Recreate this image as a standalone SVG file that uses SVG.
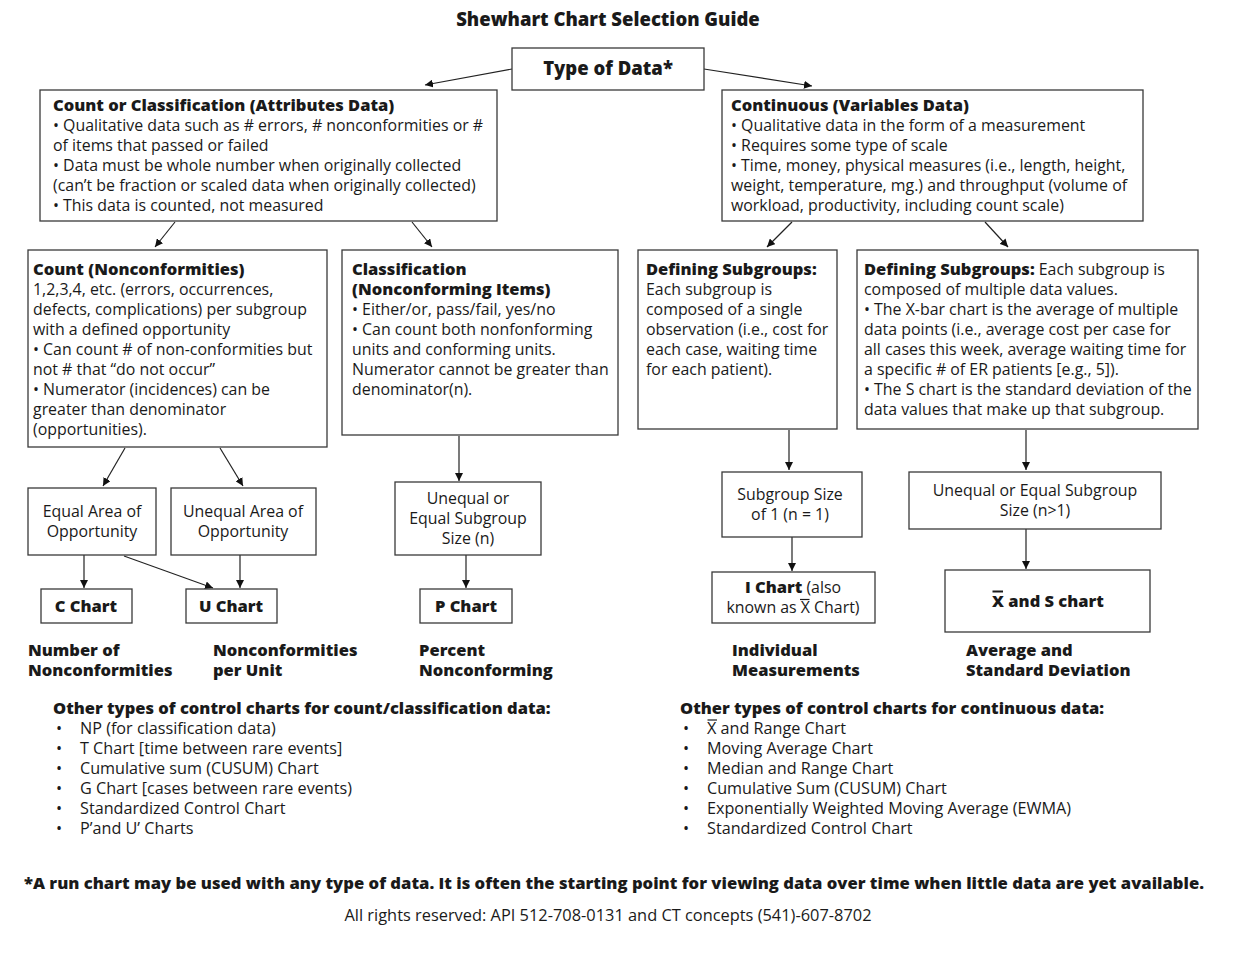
<svg xmlns="http://www.w3.org/2000/svg" width="1239" height="957" viewBox="0 0 1239 957">
<style>
text{font-family:"Open Sans","Liberation Sans",sans-serif;font-size:15.9px;fill:#1a1a1a}
.t{font-weight:800;font-size:16.5px}
.li{font-size:16.2px}
.c{text-anchor:middle}
.box{fill:#fff;stroke:#3a3a3a;stroke-width:1.3}
.ln{stroke:#222;stroke-width:1.2;fill:none;marker-end:url(#ah)}
.bar{stroke:#1a1a1a;stroke-width:1.2}
.bbar{stroke:#1a1a1a;stroke-width:2}
</style>
<defs>
<marker id="ah" viewBox="0 0 10 10" refX="10" refY="5" markerWidth="8" markerHeight="8" markerUnits="userSpaceOnUse" orient="auto">
<path d="M0,0 L10,5 L0,10 z" fill="#111"/>
</marker>
</defs>
<rect width="1239" height="957" fill="#fff"/>
<text id="title" class="t c" x="608" y="26" style="font-size:18.5px">Shewhart Chart Selection Guide</text>

<g id="connectors">
<line class="ln" x1="512" y1="69" x2="425" y2="85"/>
<line class="ln" x1="704" y1="69" x2="812" y2="86"/>
<line class="ln" x1="175" y1="222" x2="155" y2="247"/>
<line class="ln" x1="412" y1="222" x2="432" y2="247"/>
<line class="ln" x1="792" y1="222" x2="767" y2="247"/>
<line class="ln" x1="985" y1="222" x2="1008" y2="247"/>
<line class="ln" x1="125" y1="448" x2="103" y2="486"/>
<line class="ln" x1="220" y1="448" x2="243" y2="486"/>
<line class="ln" x1="459" y1="436" x2="459" y2="481"/>
<line class="ln" x1="84" y1="555" x2="84" y2="588"/>
<line class="ln" x1="124" y1="556" x2="213" y2="588"/>
<line class="ln" x1="240" y1="555" x2="240" y2="588"/>
<line class="ln" x1="466" y1="555" x2="466" y2="588"/>
<line class="ln" x1="789" y1="430" x2="789" y2="470"/>
<line class="ln" x1="792" y1="537" x2="792" y2="571"/>
<line class="ln" x1="1026" y1="430" x2="1026" y2="470"/>
<line class="ln" x1="1026" y1="529" x2="1026" y2="569"/>
</g>

<g id="type-of-data">
<rect class="box" x="512" y="48" width="192" height="42"/>
<text class="t c" x="608" y="75" style="font-size:18.5px">Type of Data*</text>
</g>

<g id="attributes">
<rect class="box" x="40" y="90" width="457" height="131"/>
<text x="53" y="111"><tspan class="t">Count or Classification (Attributes Data)</tspan>
<tspan x="53" dy="20">• Qualitative data such as # errors, # nonconformities or #</tspan>
<tspan x="53" dy="20">of items that passed or failed</tspan>
<tspan x="53" dy="20">• Data must be whole number when originally collected</tspan>
<tspan x="53" dy="20">(can’t be fraction or scaled data when originally collected)</tspan>
<tspan x="53" dy="20">• This data is counted, not measured</tspan></text>
</g>

<g id="variables">
<rect class="box" x="722" y="90" width="421" height="131"/>
<text x="731" y="111"><tspan class="t">Continuous (Variables Data)</tspan>
<tspan x="731" dy="20">• Qualitative data in the form of a measurement</tspan>
<tspan x="731" dy="20">• Requires some type of scale</tspan>
<tspan x="731" dy="20">• Time, money, physical measures (i.e., length, height,</tspan>
<tspan x="731" dy="20">weight, temperature, mg.) and throughput (volume of</tspan>
<tspan x="731" dy="20">workload, productivity, including count scale)</tspan></text>
</g>

<g id="count">
<rect class="box" x="28" y="250" width="299" height="197"/>
<text x="33" y="275"><tspan class="t">Count (Nonconformities)</tspan>
<tspan x="33" dy="20">1,2,3,4, etc. (errors, occurrences,</tspan>
<tspan x="33" dy="20">defects, complications) per subgroup</tspan>
<tspan x="33" dy="20">with a defined opportunity</tspan>
<tspan x="33" dy="20">• Can count # of non-conformities but</tspan>
<tspan x="33" dy="20">not # that “do not occur”</tspan>
<tspan x="33" dy="20">• Numerator (incidences) can be</tspan>
<tspan x="33" dy="20">greater than denominator</tspan>
<tspan x="33" dy="20">(opportunities).</tspan></text>
</g>

<g id="classification">
<rect class="box" x="342" y="250" width="276" height="185"/>
<text x="352" y="275"><tspan class="t">Classification</tspan>
<tspan class="t" x="352" dy="20">(Nonconforming Items)</tspan>
<tspan x="352" dy="20">• Either/or, pass/fail, yes/no</tspan>
<tspan x="352" dy="20">• Can count both nonfonforming</tspan>
<tspan x="352" dy="20">units and conforming units.</tspan>
<tspan x="352" dy="20">Numerator cannot be greater than</tspan>
<tspan x="352" dy="20">denominator(n).</tspan></text>
</g>

<g id="subgroups-single">
<rect class="box" x="638" y="250" width="199" height="179"/>
<text x="646" y="275"><tspan class="t">Defining Subgroups:</tspan>
<tspan x="646" dy="20">Each subgroup is</tspan>
<tspan x="646" dy="20">composed of a single</tspan>
<tspan x="646" dy="20">observation (i.e., cost for</tspan>
<tspan x="646" dy="20">each case, waiting time</tspan>
<tspan x="646" dy="20">for each patient).</tspan></text>
</g>

<g id="subgroups-multiple">
<rect class="box" x="857" y="250" width="341" height="179"/>
<text x="864" y="275"><tspan class="t">Defining Subgroups:</tspan> Each subgroup is
<tspan x="864" dy="20">composed of multiple data values.</tspan>
<tspan x="864" dy="20">• The X-bar chart is the average of multiple</tspan>
<tspan x="864" dy="20">data points (i.e., average cost per case for</tspan>
<tspan x="864" dy="20">all cases this week, average waiting time for</tspan>
<tspan x="864" dy="20">a specific # of ER patients [e.g., 5]).</tspan>
<tspan x="864" dy="20">• The S chart is the standard deviation of the</tspan>
<tspan x="864" dy="20">data values that make up that subgroup.</tspan></text>
</g>

<g id="equal-area">
<rect class="box" x="28" y="488" width="128" height="67"/>
<text class="c" x="92" y="517">Equal Area of<tspan x="92" dy="20">Opportunity</tspan></text>
</g>

<g id="unequal-area">
<rect class="box" x="171" y="488" width="145" height="67"/>
<text class="c" x="243" y="517">Unequal Area of<tspan x="243" dy="20">Opportunity</tspan></text>
</g>

<g id="subgroup-n">
<rect class="box" x="395" y="482" width="146" height="73"/>
<text class="c" x="468" y="504">Unequal or<tspan x="468" dy="20">Equal Subgroup</tspan><tspan x="468" dy="20">Size (n)</tspan></text>
</g>

<g id="c-chart">
<rect class="box" x="41" y="589" width="91" height="34"/>
<text class="t c" x="86" y="612">C Chart</text>
</g>

<g id="u-chart">
<rect class="box" x="186" y="589" width="91" height="34"/>
<text class="t c" x="231" y="612">U Chart</text>
</g>

<g id="p-chart">
<rect class="box" x="420" y="589" width="92" height="34"/>
<text class="t c" x="466" y="612">P Chart</text>
</g>

<g id="subgroup-1">
<rect class="box" x="722" y="472" width="140" height="65"/>
<text class="c" x="790" y="500">Subgroup Size<tspan x="790" dy="20">of 1 (n = 1)</tspan></text>
</g>

<g id="i-chart">
<rect class="box" x="712" y="572" width="163" height="51"/>
<text class="c" x="793" y="593"><tspan class="t">I Chart</tspan> (also<tspan x="793" dy="20">known as X Chart)</tspan></text>
<line class="bar" x1="800" y1="599.5" x2="809.5" y2="599.5"/>
</g>

<g id="subgroup-gt1">
<rect class="box" x="909" y="472" width="252" height="57"/>
<text class="c" x="1035" y="496">Unequal or Equal Subgroup<tspan x="1035" dy="20">Size (n&gt;1)</tspan></text>
</g>

<g id="xs-chart">
<rect class="box" x="945" y="570" width="205" height="62"/>
<text class="t c" x="1048" y="607">X and S chart</text>
<line class="bbar" x1="992.5" y1="591.5" x2="1003" y2="591.5"/>
</g>

<g id="labels">
<text class="t" x="28" y="656">Number of<tspan x="28" dy="20">Nonconformities</tspan></text>
<text class="t" x="213" y="656">Nonconformities<tspan x="213" dy="20">per Unit</tspan></text>
<text class="t" x="419" y="656">Percent<tspan x="419" dy="20">Nonconforming</tspan></text>
<text class="t" x="732" y="656">Individual<tspan x="732" dy="20">Measurements</tspan></text>
<text class="t" x="966" y="656">Average and<tspan x="966" dy="20">Standard Deviation</tspan></text>
</g>

<g id="other-count">
<text class="t" x="53" y="714">Other types of control charts for count/classification data:</text>
<text class="li" x="56" y="734">•<tspan x="56" dy="20">•</tspan><tspan x="56" dy="20">•</tspan><tspan x="56" dy="20">•</tspan><tspan x="56" dy="20">•</tspan><tspan x="56" dy="20">•</tspan></text>
<text class="li" x="80" y="734">NP (for classification data)<tspan x="80" dy="20">T Chart [time between rare events]</tspan><tspan x="80" dy="20">Cumulative sum (CUSUM) Chart</tspan><tspan x="80" dy="20">G Chart [cases between rare events)</tspan><tspan x="80" dy="20">Standardized Control Chart</tspan><tspan x="80" dy="20">P’and U’ Charts</tspan></text>
</g>

<g id="other-continuous">
<text class="t" x="680" y="714">Other types of control charts for continuous data:</text>
<text class="li" x="683" y="734">•<tspan x="683" dy="20">•</tspan><tspan x="683" dy="20">•</tspan><tspan x="683" dy="20">•</tspan><tspan x="683" dy="20">•</tspan><tspan x="683" dy="20">•</tspan></text>
<text class="li" x="707" y="734">X and Range Chart<tspan x="707" dy="20">Moving Average Chart</tspan><tspan x="707" dy="20">Median and Range Chart</tspan><tspan x="707" dy="20">Cumulative Sum (CUSUM) Chart</tspan><tspan x="707" dy="20">Exponentially Weighted Moving Average (EWMA)</tspan><tspan x="707" dy="20">Standardized Control Chart</tspan></text>
<line class="bar" x1="707.5" y1="720" x2="717" y2="720"/>
</g>

<text id="footnote" class="t c" x="614" y="889" textLength="1180" lengthAdjust="spacingAndGlyphs">*A run chart may be used with any type of data. It is often the starting point for viewing data over time when little data are yet available.</text>
<text id="rights" class="c" x="608" y="921" textLength="527" lengthAdjust="spacingAndGlyphs">All rights reserved: API 512-708-0131 and CT concepts (541)-607-8702</text>
</svg>
